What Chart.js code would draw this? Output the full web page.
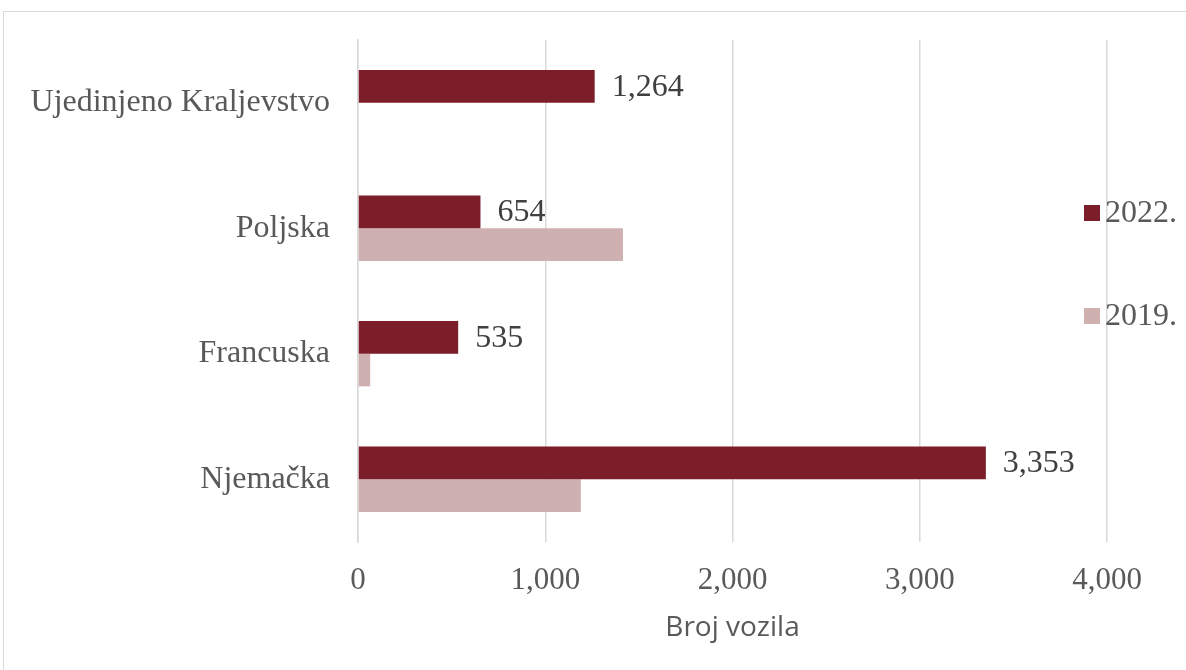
<!DOCTYPE html>
<html>
<head>
<meta charset="utf-8">
<script src="https://cdn.jsdelivr.net/npm/chart.js@4"></script>
<style>
  html, body { margin: 0; padding: 0; background: #fff; overflow: hidden; }
  #wrap { position: relative; width: 1186px; height: 670px; }
  #frame { position: absolute; left: 3px; top: 11px; width: 1200px; height: 700px; border: 1px solid #d9d9d9; box-sizing: border-box; }
  canvas { position: absolute; left: 0; top: 0; }
</style>
</head>
<body>
<div id="wrap">
  <div id="frame"></div>
  <canvas id="c" width="1186" height="670"></canvas>
</div>
<script>
const categories = ['Ujedinjeno Kraljevstvo', 'Poljska', 'Francuska', 'Njemačka'];
const seriesNames = ['2022.', '2019.'];
const values2022 = [1264, 654, 535, 3353];
const values2019 = [null, 1415, 65, 1190];
const xTicks = [0, 1000, 2000, 3000, 4000];
const axisTitle = 'Broj vozila';

const darkRed = '#7B1E2A';
const pink = '#CFB0B1';
const serif = "'Liberation Serif', 'Times New Roman', serif";

const valueLabels = {
  id: 'valueLabels',
  afterDatasetsDraw(chart) {
    const ctx = chart.ctx;
    const meta = chart.getDatasetMeta(0);
    ctx.save();
    ctx.font = '32px ' + serif;
    ctx.fillStyle = '#404040';
    ctx.textAlign = 'left';
    ctx.textBaseline = 'middle';
    meta.data.forEach((bar, i) => {
      const v = chart.data.datasets[0].data[i];
      if (v == null) return;
      ctx.fillText(v.toLocaleString('en-US'), bar.x + 17, bar.y + 1);
    });
    ctx.restore();
  }
};

const sideLegend = {
  id: 'sideLegend',
  afterDraw(chart) {
    const ctx = chart.ctx;
    const ys = [213, 316];
    ctx.save();
    ctx.font = '32px ' + serif;
    ctx.textAlign = 'left';
    ctx.textBaseline = 'middle';
    chart.data.datasets.forEach((ds, i) => {
      ctx.fillStyle = ds.backgroundColor;
      ctx.fillRect(1084, ys[i] - 8, 16, 16);
      ctx.fillStyle = '#595959';
      ctx.fillText(ds.label, 1105, ys[i] + 1);
    });
    ctx.restore();
  }
};

new Chart(document.getElementById('c'), {
  type: 'bar',
  data: {
    labels: categories,
    datasets: [
      { label: seriesNames[0], data: values2022, backgroundColor: darkRed },
      { label: seriesNames[1], data: values2019, backgroundColor: pink }
    ]
  },
  options: {
    indexAxis: 'y',
    responsive: false,
    animation: false,
    devicePixelRatio: 1,
    categoryPercentage: 0.52,
    barPercentage: 1.0,
    layout: { padding: { top: 40, right: 79, left: 0, bottom: 0 } },
    plugins: {
      legend: { display: false },
      tooltip: { enabled: false }
    },
    scales: {
      x: {
        min: 0,
        max: 4000,
        afterBuildTicks(scale) { scale.ticks = xTicks.map(v => ({ value: v })); },
        afterFit(scale) { scale.height = 128; },
        grid: { display: true, color: '#d9d9d9', lineWidth: 1.5, drawTicks: false },
        border: { display: false },
        ticks: {
          padding: 20,
          color: '#595959',
          font: { family: serif, size: 31 },
          callback: v => Number(v).toLocaleString('en-US')
        },
        title: {
          display: true,
          text: axisTitle,
          color: '#595959',
          font: { family: "'Open Sans', 'Noto Sans', sans-serif", size: 28 },
          padding: { top: 0, bottom: 25 }
        }
      },
      y: {
        afterFit(scale) { scale.width = 358; scale.paddingTop = 0; scale.paddingBottom = 0; },
        grid: { display: false, drawTicks: false },
        border: { display: true, color: '#d9d9d9', width: 1.5 },
        ticks: {
          padding: 28,
          color: '#595959',
          font: { family: serif, size: 32 }
        }
      }
    }
  },
  plugins: [valueLabels, sideLegend]
});
</script>
</body>
</html>
